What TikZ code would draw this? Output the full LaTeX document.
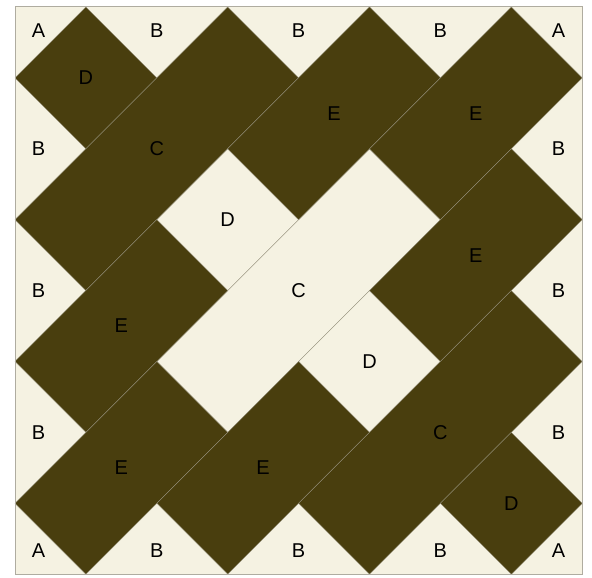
\documentclass[tikz,border=0pt]{standalone}
\usepackage{fontspec}
\setmainfont{Liberation Sans}
\definecolor{darkq}{RGB}{73,62,14}
\definecolor{lightq}{RGB}{245,242,226}
\definecolor{seam}{RGB}{150,145,125}
\definecolor{edgeq}{RGB}{175,172,160}
\tikzset{
  darkpc/.style={fill=darkq, draw=seam, line width=0.35pt, line join=miter},
  lightpc/.style={fill=lightq, draw=seam, line width=0.35pt},
  lbl/.style={font=\fontsize{20}{20}\selectfont, text=black, inner sep=0pt}
}
\begin{document}
\begin{tikzpicture}
\useasboundingbox (0,0) rectangle (592pt,578pt);
\fill[white] (0,0) rectangle (592pt,578pt);
\begin{scope}[shift={(15pt,571pt)}, x={(70.9pt,0pt)}, y={(0pt,-70.9pt)}]
  \fill[lightq] (0,0) rectangle (8,8);
  % light pieces
  \draw[lightpc] (3,2) -- (4,3) -- (3,4) -- (2,3) -- cycle;
  \draw[lightpc] (5,2) -- (6,3) -- (3,6) -- (2,5) -- cycle;
  \draw[lightpc] (5,4) -- (6,5) -- (5,6) -- (4,5) -- cycle;
  % dark pieces
  \draw[darkpc] (1,0) -- (2,1) -- (1,2) -- (0,1) -- cycle;
  \draw[darkpc] (3,0) -- (4,1) -- (1,4) -- (0,3) -- cycle;
  \draw[darkpc] (5,0) -- (6,1) -- (4,3) -- (3,2) -- cycle;
  \draw[darkpc] (7,0) -- (8,1) -- (6,3) -- (5,2) -- cycle;
  \draw[darkpc] (7,2) -- (8,3) -- (6,5) -- (5,4) -- cycle;
  \draw[darkpc] (2,3) -- (3,4) -- (1,6) -- (0,5) -- cycle;
  \draw[darkpc] (2,5) -- (3,6) -- (1,8) -- (0,7) -- cycle;
  \draw[darkpc] (4,5) -- (5,6) -- (3,8) -- (2,7) -- cycle;
  \draw[darkpc] (7,4) -- (8,5) -- (5,8) -- (4,7) -- cycle;
  \draw[darkpc] (7,6) -- (8,7) -- (7,8) -- (6,7) -- cycle;
  % block border
  \draw[edgeq, line width=1pt] (0,0) rectangle (8,8);
  % labels
  \node[lbl] (a1) at (0.333,0.333) {A};
  \node[lbl] (a2) at (7.667,0.333) {A};
  \node[lbl] (a3) at (0.333,7.667) {A};
  \node[lbl] (a4) at (7.667,7.667) {A};
  \node[lbl] (bt1) at (2,0.333) {B};
  \node[lbl] (bt2) at (4,0.333) {B};
  \node[lbl] (bt3) at (6,0.333) {B};
  \node[lbl] (bb1) at (2,7.667) {B};
  \node[lbl] (bb2) at (4,7.667) {B};
  \node[lbl] (bb3) at (6,7.667) {B};
  \node[lbl] (bl1) at (0.333,2) {B};
  \node[lbl] (bl2) at (0.333,4) {B};
  \node[lbl] (bl3) at (0.333,6) {B};
  \node[lbl] (br1) at (7.667,2) {B};
  \node[lbl] (br2) at (7.667,4) {B};
  \node[lbl] (br3) at (7.667,6) {B};
  \node[lbl] (d1) at (1,1) {D};
  \node[lbl] (d2) at (3,3) {D};
  \node[lbl] (d3) at (5,5) {D};
  \node[lbl] (d4) at (7,7) {D};
  \node[lbl] (c1) at (2,2) {C};
  \node[lbl] (c2) at (4,4) {C};
  \node[lbl] (c3) at (6,6) {C};
  \node[lbl] (e1) at (4.5,1.5) {E};
  \node[lbl] (e2) at (6.5,1.5) {E};
  \node[lbl] (e3) at (6.5,3.5) {E};
  \node[lbl] (e4) at (1.5,4.5) {E};
  \node[lbl] (e5) at (1.5,6.5) {E};
  \node[lbl] (e6) at (3.5,6.5) {E};
\end{scope}
\end{tikzpicture}
\end{document}
